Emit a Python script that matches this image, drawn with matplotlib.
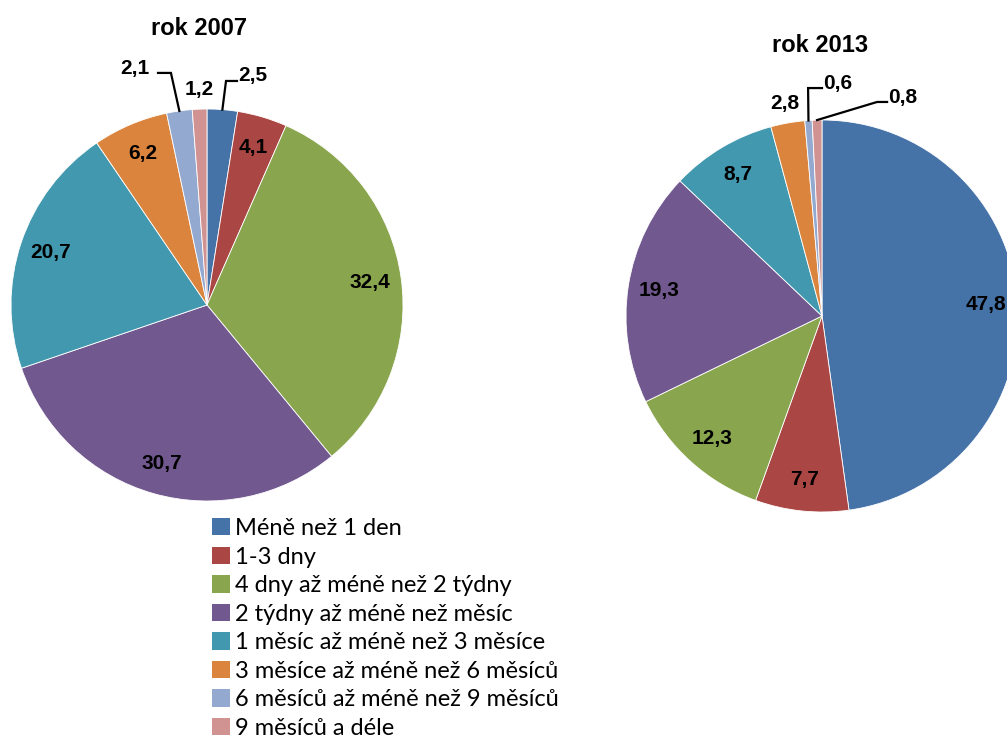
"""
Dva koláčové grafy: rozdělení podle délky trvání, rok 2007 a 2013.
"""

import numpy as np
import matplotlib
matplotlib.use("Agg")
import matplotlib.pyplot as plt
from matplotlib.patches import Patch

# --- data ---
categories = [
    "Méně než 1 den",
    "1-3 dny",
    "4 dny až méně než 2 týdny",
    "2 týdny až méně než měsíc",
    "1 měsíc až méně než 3 měsíce",
    "3 měsíce až méně než 6 měsíců",
    "6 měsíců až méně než 9 měsíců",
    "9 měsíců a déle",
]
values_2007 = [2.5, 4.1, 32.4, 30.7, 20.7, 6.2, 2.1, 1.2]
values_2013 = [47.8, 7.7, 12.3, 19.3, 8.7, 2.8, 0.6, 0.8]

colors = ["#4572A7", "#AA4643", "#89A54E", "#71588F",
          "#4198AF", "#DB843D", "#93A9CF", "#D19392"]

W, H = 1007, 744
R = 196  # poloměr koláče v pixelech

# umístění popisků: 'in' uvnitř, 'out' těsně vně, jinak (lomy vodicí čáry, pozice textu, zarovnání)
labels_2007 = ["lead", "in", "in", "in", "in", "in", "lead", "out"]
labels_2013 = ["in", "in", "in", "in", "in", "out", "lead", "lead"]
leaders_2007 = {
    0: ([(0.097, 1.143), (0.153, 1.143)], (0.158, 1.173), "left"),
    6: ([(-0.184, 1.184), (-0.25, 1.184)], (-0.291, 1.207), "right"),
}
leaders_2013 = {
    6: ([(-0.071, 1.163), (0.0, 1.163)], (0.005, 1.184), "left"),
    7: ([(0.281, 1.092), (0.332, 1.092)], (0.337, 1.117), "left"),
}


def fmt(v):
    return f"{v:.1f}".replace(".", ",")


def draw_pie(fig, cx, cy, values, modes, leaders):
    ax = fig.add_axes([(cx - R) / W, (H - cy - R) / H, 2 * R / W, 2 * R / H])
    wedges, _ = ax.pie(values, colors=colors, startangle=90, counterclock=False,
                       radius=1.0, wedgeprops=dict(edgecolor="white", linewidth=0.6))
    ax.set_xlim(-1, 1)
    ax.set_ylim(-1, 1)
    ax.set_aspect("auto")
    ax.axis("off")

    txt = dict(fontsize=15, fontweight="bold", family="Liberation Sans", color="black")
    for i, (w, v) in enumerate(zip(wedges, values)):
        ang = np.deg2rad((w.theta1 + w.theta2) / 2)
        c, s = np.cos(ang), np.sin(ang)
        mode = modes[i]
        if mode == "in":
            ax.text(0.84 * c, 0.84 * s, fmt(v), ha="center", va="center", **txt)
        elif mode == "out":
            ax.text(1.09 * c, 1.10 * s, fmt(v), ha="center", va="center", **txt)
        else:
            pts, (tx, ty), ha = leaders[i]
            xs = [c] + [p[0] for p in pts]
            ys = [s] + [p[1] for p in pts]
            ax.plot(xs, ys, color="black", lw=1.6, clip_on=False,
                    solid_joinstyle="miter")
            ax.text(tx, ty, fmt(v), ha=ha, va="center", **txt)
    return ax


fig = plt.figure(figsize=(W / 100, H / 100), dpi=100)

draw_pie(fig, 207, 305, values_2007, labels_2007, leaders_2007)
draw_pie(fig, 822, 316, values_2013, labels_2013, leaders_2013)

fig.text(199 / W, 1 - 28.5 / H, "rok 2007", ha="center", va="center",
         fontsize=17, fontweight="bold", family="Liberation Sans")
fig.text(820 / W, 1 - 45.5 / H, "rok 2013", ha="center", va="center",
         fontsize=17, fontweight="bold", family="Liberation Sans")

handles = [Patch(facecolor=c, edgecolor="none") for c in colors]
fig.legend(handles, categories, loc="upper left",
           bbox_to_anchor=(212 / W, 1 - 518 / H), frameon=False,
           prop=dict(family="Lato", size=17), handlelength=0.76,
           handleheight=0.76, handletextpad=0.22, labelspacing=0.32,
           borderpad=0, borderaxespad=0)

fig.savefig("out.png", dpi=100)
